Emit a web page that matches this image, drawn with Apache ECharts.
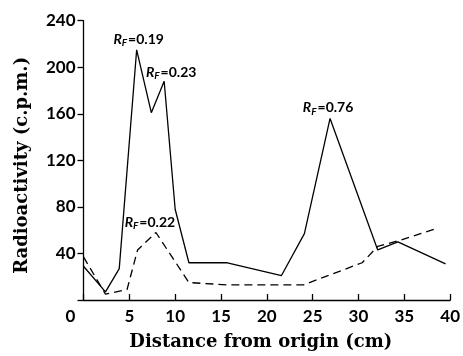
<!DOCTYPE html>
<html>
<head>
<meta charset="utf-8">
<script src="https://cdn.jsdelivr.net/npm/echarts@6/dist/echarts.min.js"></script>
<style>
  html, body { margin: 0; padding: 0; background: #fff; }
  #chart { width: 463px; height: 356px; }
</style>
</head>
<body>
<div id="chart"></div>
<script>
// solid trace
var solidX = [0, 2.4, 3.9, 5.8, 7.4, 8.8, 10.0, 11.5, 15.7, 21.6, 24.1, 26.9, 32.1, 34.3, 39.5];
var solidY = [29, 7, 27, 215, 161, 188, 78, 32, 32, 21, 57, 156, 43, 50, 31];
// dashed trace
var dashX = [0, 2.4, 4.75, 5.9, 7.9, 11.5, 15.7, 24.0, 30.4, 32.1, 34.4, 38.7];
var dashY = [37, 5, 9, 43, 58, 15, 13, 13, 32, 46, 51, 62];
// peak labels (point index -> Rf value)
var solidLabels = { 3: "0.19", 5: "0.23", 11: "0.76" };
var dashLabels = { 4: "0.22" };

var labelFont = "Lato";
var rich = {
  r: { fontFamily: labelFont, fontStyle: "italic", fontWeight: "bold", fontSize: 14, color: "#000" },
  s: { fontFamily: labelFont, fontStyle: "italic", fontWeight: "bold", fontSize: 10, color: "#000", padding: [7, 1, 0, 0] },
  v: { fontFamily: labelFont, fontWeight: "bold", fontSize: 14, color: "#000" }
};

function build(xs, ys, labels, offsets) {
  return xs.map(function (x, i) {
    var item = { value: [x, ys[i]] };
    if (labels[i]) {
      item.label = {
        show: true,
        position: "top",
        distance: 2,
        offset: offsets[i] || [0, 0],
        formatter: "{r|R}{s|F}{v|=" + labels[i] + "}",
        rich: rich
      };
    }
    return item;
  });
}

var chart = echarts.init(document.getElementById("chart"));
chart.setOption({
  animation: false,
  grid: { left: 83.5, right: 7, top: 20.7, bottom: 56 },
  xAxis: {
    type: "value",
    min: 0,
    max: 40,
    interval: 5,
    name: "Distance from origin (cm)",
    nameLocation: "middle",
    nameGap: 33,
    nameTextStyle: { fontFamily: "DejaVu Serif", fontWeight: "bold", fontSize: 18, color: "#000", padding: [0, 12, 0, 0] },
    axisLine: { lineStyle: { color: "#000", width: 1.3 } },
    axisTick: { inside: true, length: 6, lineStyle: { color: "#000", width: 1.3 } },
    splitLine: { show: false },
    axisLabel: {
      margin: 8,
      fontFamily: labelFont,
      fontWeight: "bold",
      fontSize: 17,
      color: "#000",
      formatter: function (v) { return v === 0 ? "{z|0}" : String(v); },
      rich: { z: { fontFamily: labelFont, fontWeight: "bold", fontSize: 17, color: "#000", padding: [0, 26, 0, 0] } }
    }
  },
  yAxis: {
    type: "value",
    min: 0,
    max: 240,
    interval: 40,
    name: "Radioactivity (c.p.m.)",
    nameLocation: "middle",
    nameGap: 52,
    nameRotate: 90,
    nameTextStyle: { fontFamily: "DejaVu Serif", fontWeight: "bold", fontSize: 18, color: "#000", padding: [0, 10, 0, 0] },
    axisLine: { show: true, lineStyle: { color: "#000", width: 1.3 } },
    axisTick: { show: true, length: 6, lineStyle: { color: "#000", width: 1.3 } },
    splitLine: { show: false },
    axisLabel: {
      margin: 8,
      fontFamily: labelFont,
      fontWeight: "bold",
      fontSize: 17,
      color: "#000",
      formatter: function (v) { return v === 0 ? "" : String(v); }
    }
  },
  series: [
    {
      type: "line",
      data: build(solidX, solidY, solidLabels, { 3: [2, 0], 5: [7, 2], 11: [-2, 0] }),
      symbol: "circle",
      symbolSize: 0,
      showSymbol: true,
      itemStyle: { color: "#000" },
      lineStyle: { color: "#000", width: 1.3 },
      z: 3
    },
    {
      type: "line",
      data: build(dashX, dashY, dashLabels, { 4: [-6, 0] }),
      symbol: "circle",
      symbolSize: 0,
      showSymbol: true,
      itemStyle: { color: "#000" },
      lineStyle: { color: "#000", width: 1.3, type: [8, 5] },
      z: 2
    }
  ]
});
</script>
</body>
</html>
